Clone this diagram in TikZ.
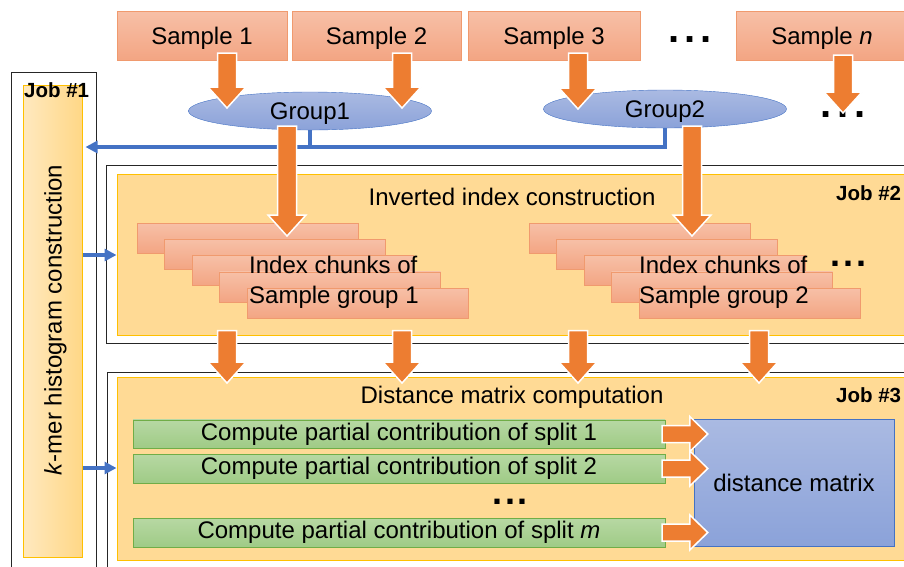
\documentclass[tikz,border=0pt]{standalone}
\usepackage{fontspec}
\setmainfont{Liberation Sans}
\usetikzlibrary{arrows.meta,calc,shapes.geometric}

\definecolor{arrorange}{HTML}{ED7D31}
\definecolor{salmontop}{HTML}{F7C0A7}
\definecolor{salmonbot}{HTML}{F3A583}
\definecolor{salmonline}{HTML}{F09A6E}
\definecolor{bluetop}{HTML}{AABAE2}
\definecolor{bluebot}{HTML}{8BA2D9}
\definecolor{blueline}{HTML}{4472C4}
\definecolor{gold}{HTML}{FFC000}
\definecolor{jobfill}{HTML}{FFDA95}
\definecolor{greentop}{HTML}{B7D8A3}
\definecolor{greenbot}{HTML}{9FCB86}
\definecolor{greenline}{HTML}{70AD47}

% block arrows (start, tip)
\newcommand{\fatdown}[2]{%
  \draw[fat] let \p1=(#1), \p2=(#2) in
    (\x1-9.5pt,\y1) -- (\x1+9.5pt,\y1) -- (\x1+9.5pt,\y2+21pt) -- (\x1+19pt,\y2+21pt)
    -- (\x1,\y2) -- (\x1-19pt,\y2+21pt) -- (\x1-9.5pt,\y2+21pt) -- cycle;}
\newcommand{\fatright}[2]{%
  \draw[fat] let \p1=(#1), \p2=(#2) in
    (\x1,\y1+8.5pt) -- (\x2-18pt,\y1+8.5pt) -- (\x2-18pt,\y1+17.5pt) -- (\x2,\y1)
    -- (\x2-18pt,\y1-17.5pt) -- (\x2-18pt,\y1-8.5pt) -- (\x1,\y1-8.5pt) -- cycle;}

\begin{document}
\begin{tikzpicture}[x=1pt,y=-1pt,>={Triangle[length=12pt,width=12pt]},
every node/.style={font=\fontsize{24}{29}\selectfont, inner sep=0pt},
samplebox/.style={rectangle, draw=salmonline, top color=salmontop, bottom color=salmonbot, minimum height=49pt, text depth=0pt},
chunkbox/.style={samplebox, minimum width=221pt, minimum height=30pt},
groupell/.style={ellipse, draw=blueline, top color=bluetop, bottom color=bluebot, minimum width=243pt, minimum height=38pt, text depth=0pt},
jobbox/.style={rectangle, draw=gold, line width=1pt, fill=jobfill},
jobframe/.style={draw=black!85, line width=0.8pt},
joblabel/.style={anchor=west, font=\fontsize{20.5}{22}\selectfont\bfseries},
splitbox/.style={rectangle, draw=greenline, top color=greentop, bottom color=greenbot, minimum width=532pt, minimum height=28.5pt},
ellip/.style={font=\fontsize{40}{40}\selectfont\bfseries},
fat/.style={fill=arrorange, draw=white, line width=1.5pt},
bluelink/.style={draw=blueline, line width=3.5pt}]

\useasboundingbox (0,0) rectangle (904,566);
\clip (0,0) rectangle (904,566);

% samples and groups
\node[samplebox, minimum width=170pt] (s1) at (202,35.5) {Sample 1};
\node[samplebox, minimum width=169pt] (s2) at (376.5,35.5) {Sample 2};
\node[samplebox, minimum width=172pt] (s3) at (554,35.5) {Sample 3};
\node[samplebox, minimum width=172pt] (sn) at (822,35.5) {Sample \textit{n}};
\node[ellip] (dtop) at (690,40) {.\kern5pt.\kern5pt.};
\node[ellip] (dn) at (843,115) {.\kern6pt.\kern6pt.};
\node[groupell] (g1) at (310,111) {Group1};
\node[groupell] (g2) at (665,109) {Group2};

% job frames
\draw[jobframe] (11,72) rectangle (96,600);
\draw[jobframe] (106,165) rectangle (930,343);
\draw[jobframe] (107,372) rectangle (930,600);

\node[jobbox, left color=jobfill!60!white, right color=jobfill!90!gold, minimum width=59pt, minimum height=472pt] (j1in) at (52.5,321) {};
\node[rotate=90, text depth=0pt] (j1lab) at (53,320) {\textit{k}-mer histogram construction};
\node[joblabel] (j1) at (24,90) {Job \#1};

\node[jobbox, minimum width=798pt, minimum height=161pt] (j2in) at (516,254.5) {};
\node (inv) at (512,197) {Inverted index construction};
\node[joblabel] (j2) at (836,193) {Job \#2};

\node[jobbox, minimum width=798pt, minimum height=183pt] (j3in) at (516,468.5) {};
\node (dist) at (512,397) {Distance matrix computation};
\node[joblabel] (j3) at (836,395) {Job \#3};

% index chunks
\foreach \i in {0,...,4} {
  \node[chunkbox] (ca\i) at (247.5+27.5*\i,238+16.25*\i) {};
  \node[chunkbox] (cb\i) at (639.5+27.5*\i,238+16.25*\i) {};
}
\node[anchor=west, align=left, font=\fontsize{24}{30}\selectfont] (ta) at (249,282) {Index chunks of\\Sample group 1};
\node[anchor=west, align=left, font=\fontsize{24}{30}\selectfont] (tb) at (639,282) {Index chunks of\\Sample group 2};
\node[ellip, font=\fontsize{36}{36}\selectfont\bfseries] (dchunk) at (848,263.5) {.\kern3pt.\kern3pt.};

% distance matrix
\node[splitbox] (c1) at (399,434) {Compute partial contribution of split 1};
\node[splitbox] (c2) at (399,468.5) {Compute partial contribution of split 2};
\node[ellip, font=\fontsize{36}{36}\selectfont\bfseries] (dsplit) at (510,502) {.\kern3pt.\kern3pt.};
\node[splitbox] (cm) at (399,532.5) {Compute partial contribution of split \textit{m}};
\node[rectangle, draw=blueline, top color=bluetop, bottom color=bluebot, minimum width=200pt, minimum height=127pt] (dm) at (794,482.5) {distance matrix};

% blue links
\coordinate (bus) at (0,147);
\draw[bluelink] (g1.south) -- (g1.south |- bus);
\draw[bluelink,->] (g2.south) |- ([xshift=3pt]j1in.east |- bus);
\draw[bluelink,->] (j1in.east |- 0,255) -- (j2in.west |- 0,255);
\draw[bluelink,->] (j1in.east |- 0,468) -- (j3in.west |- 0,468);

% block arrows
\fatdown{[xshift=25pt,yshift=7pt]s1.south}{[yshift=3pt]g1.center}
\fatdown{[xshift=25.5pt,yshift=7pt]s2.south}{[yshift=3pt]g1.center}
\fatdown{[xshift=24pt,yshift=7pt]s3.south}{g2.center}
\fatdown{[xshift=21pt,yshift=5pt]sn.south}{[yshift=2pt]dn.center}
\fatdown{[xshift=-23pt,yshift=4pt]g1.south}{[yshift=2pt]ca0.center}
\fatdown{[xshift=27pt,yshift=2pt]g2.south}{[yshift=2pt]cb0.center}
\foreach \dx in {227,402,578,759} {
  \coordinate (t\dx) at (\dx,383);
  \fatdown{[yshift=5pt]j2in.south -| t\dx}{t\dx}
}
\fatright{[xshift=-3pt]c1.east}{[xshift=14pt]dm.west}
\fatright{[xshift=-3pt]c2.east}{[xshift=14pt]dm.west}
\fatright{[xshift=-3pt]cm.east}{[xshift=14pt]dm.west}

\end{tikzpicture}
\end{document}
